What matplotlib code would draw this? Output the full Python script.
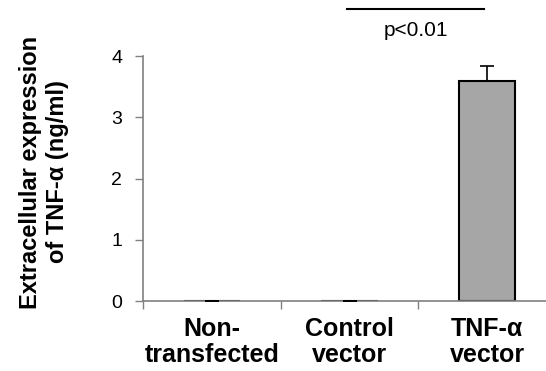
import matplotlib.pyplot as plt
import numpy as np

plt.rcParams['font.family'] = ['Liberation Sans', 'DejaVu Sans']

categories = ['Non-\ntransfected', 'Control\nvector', 'TNF-\u03b1\nvector']
values = [0.0, 0.0, 3.6]
errors = [0.0, 0.0, 0.23]

fig = plt.figure(figsize=(5.46, 3.71), dpi=100)
ax = fig.add_axes([143 / 546, 1 - 301 / 371, 413 / 546, 245 / 371])

x = np.arange(len(categories))
ax.bar(x, values, width=0.41, color='#a6a6a6', edgecolor='black', linewidth=1.5, zorder=2)
ax.errorbar(x, values, yerr=[np.zeros(3), errors], fmt='none', ecolor='black',
            elinewidth=1.2, capsize=5, capthick=1.2, zorder=3)

ax.set_xlim(-0.5, 2.5)
ax.set_ylim(0, 4)
ax.set_yticks([0, 1, 2, 3, 4])
ax.set_xticks([-0.5, 0.5, 1.5])
ax.set_xticklabels([])
ax.tick_params(axis='both', direction='out', length=6, width=1, color='#808080', labelsize=14)
ax.tick_params(axis='y', pad=9)
for s in ['top', 'right']:
    ax.spines[s].set_visible(False)
for s in ['left', 'bottom']:
    ax.spines[s].set_color('#808080')
    ax.spines[s].set_linewidth(1.2)

for xi, lab in zip(x, categories):
    ax.text(xi, -0.26, lab, ha='center', va='top', fontsize=18, fontweight='bold',
            linespacing=1.1, clip_on=False)

fig.text(44 / 546, 1 - 172 / 371, 'Extracellular expression\nof TNF-\u03b1 (ng/ml)', rotation=90,
         ha='center', va='center', fontsize=17, fontweight='bold', linespacing=1.25)

ax.plot([0.985, 1.975], [4.77, 4.77], color='black', lw=1.5, clip_on=False)
ax.text(1.48, 4.42, 'p<0.01', ha='center', va='center', fontsize=15, clip_on=False)

fig.savefig('out.png', dpi=100)
